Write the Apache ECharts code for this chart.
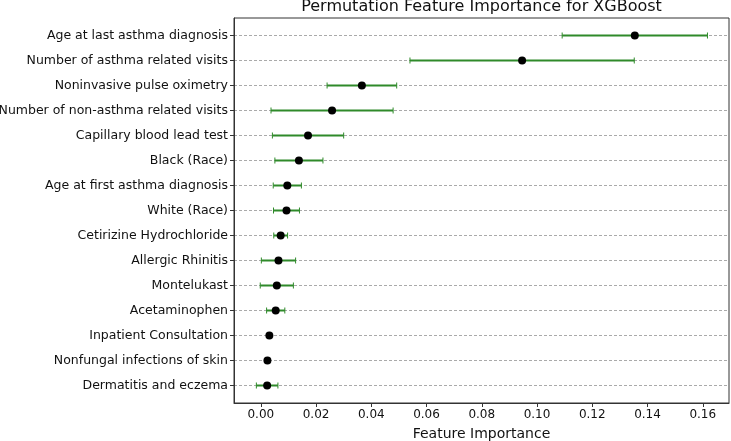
<!DOCTYPE html>
<html><head><meta charset="utf-8">
<script src="https://cdn.jsdelivr.net/npm/echarts@6/dist/echarts.min.js"></script>
<style>html,body{margin:0;padding:0;background:#fff}#c{width:731px;height:441px}</style>
</head><body><div id="c"></div>
<script>
const features = [
  "Age at last asthma diagnosis",
  "Number of asthma related visits",
  "Noninvasive pulse oximetry",
  "Number of non-asthma related visits",
  "Capillary blood lead test",
  "Black (Race)",
  "Age at first asthma diagnosis",
  "White (Race)",
  "Cetirizine Hydrochloride",
  "Allergic Rhinitis",
  "Montelukast",
  "Acetaminophen",
  "Inpatient Consultation",
  "Nonfungal infections of skin",
  "Dermatitis and eczema"
];
const importanceMean = [0.1354, 0.0946, 0.0366, 0.0258, 0.0171, 0.0138, 0.0096, 0.0093, 0.0072, 0.0064, 0.0058, 0.0054, 0.0031, 0.0024, 0.0023];
const importanceStd  = [0.0263, 0.0406, 0.0126, 0.0221, 0.0129, 0.0087, 0.0051, 0.0047, 0.0025, 0.0062, 0.0060, 0.0033, 0.0003, 0.0002, 0.0039];
const xTicks = [0, 0.02, 0.04, 0.06, 0.08, 0.10, 0.12, 0.14, 0.16];

const rowIdx = features.map((_, i) => i);
const errData = features.map((_, i) => [importanceMean[i] - importanceStd[i], importanceMean[i] + importanceStd[i], i]);
const dotData = features.map((_, i) => [importanceMean[i], i]);
const FONT = 'DejaVu Sans';
const GREEN = '#2f8a2a';

const chart = echarts.init(document.getElementById('c'), null, {renderer: 'canvas'});
chart.setOption({
  animation: false,
  backgroundColor: '#fff',
  grid: {left: 234, right: 2, top: 18, bottom: 38, show: true, borderColor: '#333', borderWidth: 1,
         backgroundColor: 'transparent', containLabel: false, outerBoundsMode: 'none'},
  graphic: [{
    type: 'text', x: 481.5, y: 7, silent: true,
    style: {text: 'Permutation Feature Importance for XGBoost', font: '16px "DejaVu Sans"', fill: '#111',
            align: 'center', verticalAlign: 'middle'}
  }],
  xAxis: {
    type: 'value', min: -0.0097, max: 0.1695,
    axisLine: {show: true, onZero: false, lineStyle: {color: '#333', width: 1}},
    axisTick: {show: true, inside: false, length: 4, customValues: xTicks, lineStyle: {color: '#333'}},
    axisLabel: {customValues: xTicks, formatter: v => v.toFixed(2), fontFamily: FONT, fontSize: 12, color: '#111', margin: 6},
    splitLine: {show: false},
    name: 'Feature Importance', nameLocation: 'middle', nameGap: 24,
    nameTextStyle: {fontFamily: FONT, fontSize: 14, color: '#111'}
  },
  yAxis: {
    type: 'value', min: -0.7, max: 14.7, inverse: true,
    axisLine: {show: true, onZero: false, lineStyle: {color: '#333', width: 1}},
    axisTick: {show: true, length: 4, customValues: rowIdx, lineStyle: {color: '#333'}},
    axisLabel: {customValues: rowIdx, formatter: v => features[Math.round(v)] || '', fontFamily: FONT, fontSize: 12.5, color: '#111', margin: 6},
    splitLine: {show: true, lineStyle: {color: '#aaa', type: [3, 2], width: 1}}
  },
  series: [{
    type: 'custom',
    data: errData,
    encode: {x: [0, 1], y: 2},
    renderItem: function (params, api) {
      const y = api.value(2);
      const a = api.coord([api.value(0), y]);
      const b = api.coord([api.value(1), y]);
      const h = 3;
      return {type: 'group', children: [
        {type: 'line', shape: {x1: a[0], y1: a[1], x2: b[0], y2: b[1]}, style: {stroke: GREEN, lineWidth: 2}},
        {type: 'line', shape: {x1: a[0], y1: a[1] - h, x2: a[0], y2: a[1] + h}, style: {stroke: GREEN, lineWidth: 1}},
        {type: 'line', shape: {x1: b[0], y1: b[1] - h, x2: b[0], y2: b[1] + h}, style: {stroke: GREEN, lineWidth: 1}}
      ]};
    },
    z: 2
  }, {
    type: 'scatter',
    data: dotData,
    symbol: 'circle', symbolSize: 8,
    itemStyle: {color: '#000', opacity: 1},
    z: 3
  }]
});
</script></body></html>
